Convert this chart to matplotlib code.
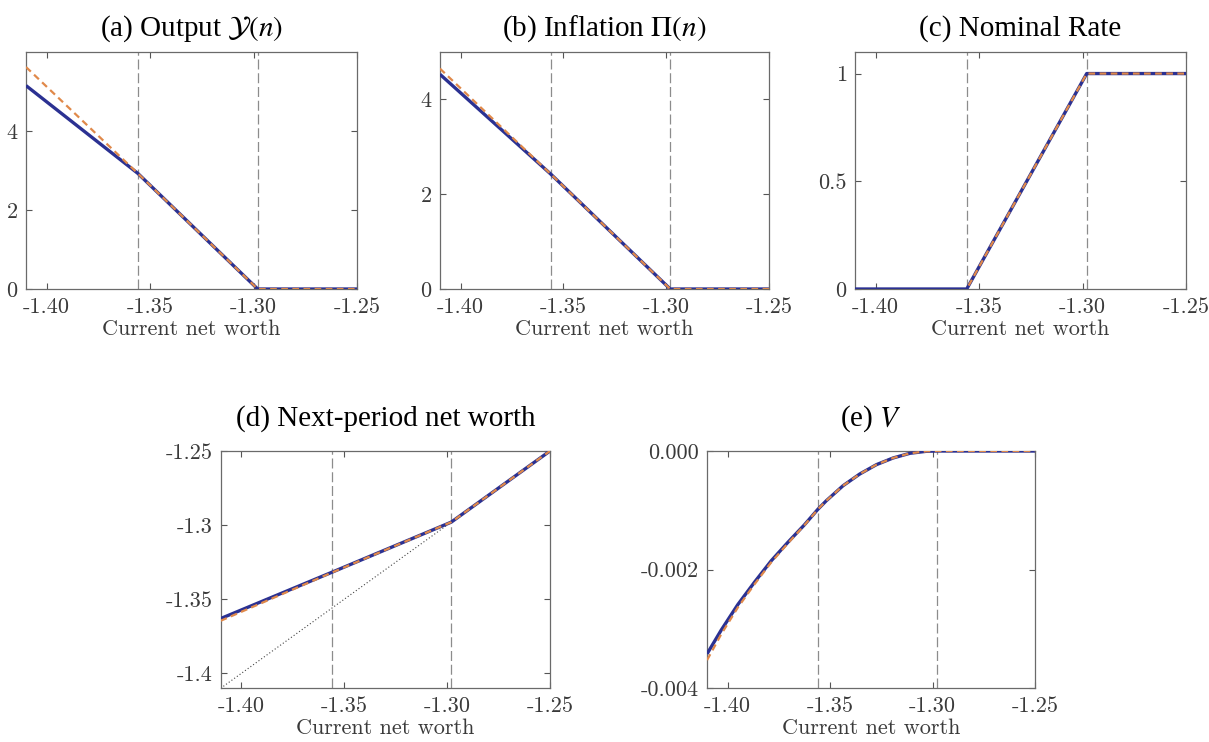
import matplotlib
matplotlib.use("Agg")
import matplotlib.pyplot as plt

# kink points of the policy functions (current net worth)
n_kinks = [-1.41, -1.356, -1.298, -1.25]
output_blue = [5.15, 2.93, 0.0, 0.0]
output_orange = [5.62, 2.93, 0.0, 0.0]
infl_blue = [4.53, 2.42, 0.0, 0.0]
infl_orange = [4.65, 2.42, 0.0, 0.0]
rate_blue = [0.0, 0.0, 1.0, 1.0]
rate_orange = [-0.93, 0.0, 1.0, 1.0]
next_blue = [-1.363, -1.3318, -1.298, -1.25]
next_orange = [-1.3645, -1.332, -1.298, -1.25]
diag = [-1.41, -1.298]

# value function (x 1e-3)
n_v = [-1.4101, -1.4032, -1.3951, -1.3869, -1.3788, -1.3706, -1.3625, -1.3560,
       -1.3519, -1.3437, -1.3356, -1.3274, -1.3193, -1.3111, -1.3030, -1.298, -1.25]
v_blue = [-3.420, -3.020, -2.590, -2.210, -1.852, -1.538, -1.242, -0.983,
          -0.839, -0.585, -0.389, -0.230, -0.118, -0.039, -0.005, 0.0, 0.0]
v_orange = [-3.525, -3.090, -2.640, -2.245, -1.878, -1.555, -1.248, -0.983,
            -0.839, -0.585, -0.389, -0.230, -0.118, -0.039, -0.005, 0.0, 0.0]

vlines = [-1.356, -1.298]
xticks = [-1.40, -1.35, -1.30, -1.25]
xtick_labels = ["-1.40", "-1.35", "-1.30", "-1.25"]

BLUE = "#2b3192"
ORANGE = "#e0894a"
GREY = "#8c8c8c"
TICKFONT = "cmr10"
TICKCOL = "#3a3a3a"

plt.rcParams["mathtext.fontset"] = "stix"
plt.rcParams["font.family"] = "Liberation Serif"

fig = plt.figure(figsize=(12.09, 7.42), dpi=100)


def make_ax(rect, title, ylim, yticks, ylabels, pad):
    ax = fig.add_axes(rect)
    ax.set_xlim(-1.41, -1.25)
    ax.set_ylim(*ylim)
    ax.set_xticks(xticks)
    ax.set_xticklabels(xtick_labels, fontfamily=TICKFONT, fontsize=16, color=TICKCOL)
    ax.set_yticks(yticks)
    ax.set_yticklabels(ylabels, fontfamily=TICKFONT, fontsize=16, color=TICKCOL)
    ax.tick_params(direction="in", length=4, width=0.8, color="#555555",
                   top=True, right=True, pad=6)
    for s in ax.spines.values():
        s.set_color("#6a6a6a")
        s.set_linewidth(0.9)
    ax.set_xlabel("Current net worth", fontfamily=TICKFONT, fontsize=16,
                  color=TICKCOL, labelpad=2)
    ax.set_title(title, fontsize=21, pad=pad)
    for v in vlines:
        ax.axvline(v, color=GREY, lw=0.9, ls=(0, (8, 3)), zorder=1)
    return ax


def draw(ax, x, yb, yo):
    ax.plot(x, yb, color=BLUE, lw=2.4, solid_capstyle="butt", zorder=3)
    ax.plot(x, yo, color=ORANGE, lw=1.6, ls=(0, (3, 2)), zorder=4)


ax = make_ax([0.0215, 0.6105, 0.2738, 0.3194], r"(a) Output $\mathcal{Y}(\mathit{n})$",
             (0, 6), [0, 2, 4], ["0", "2", "4"], 12)
draw(ax, n_kinks, output_blue, output_orange)

ax = make_ax([0.3639, 0.6105, 0.2721, 0.3194], r"(b) Inflation $\Pi(\mathit{n})$",
             (0, 5), [0, 2, 4], ["0", "2", "4"], 12)
draw(ax, n_kinks, infl_blue, infl_orange)

ax = make_ax([0.7072, 0.6105, 0.2738, 0.3194], "(c) Nominal Rate",
             (0, 1.1), [0, 0.5, 1], ["0", "0.5", "1"], 12)
draw(ax, n_kinks, rate_blue, rate_orange)

ax = make_ax([0.1825, 0.0724, 0.2724, 0.3198], "(d) Next-period net worth",
             (-1.41, -1.25), [-1.4, -1.35, -1.3, -1.25],
             ["-1.4", "-1.35", "-1.3", "-1.25"], 18)
ax.plot(diag, diag, color="#444444", lw=0.8, ls=(0, (1, 2)), zorder=2)
draw(ax, n_kinks, next_blue, next_orange)

ax = make_ax([0.585, 0.0724, 0.2711, 0.3198], r"(e) $\mathit{V}$",
             (-0.004, 0.0), [-0.004, -0.002, 0.0],
             ["-0.004", "-0.002", "0.000"], 18)
draw(ax, n_v, [v * 1e-3 for v in v_blue], [v * 1e-3 for v in v_orange])

fig.savefig("out.png", dpi=100)
